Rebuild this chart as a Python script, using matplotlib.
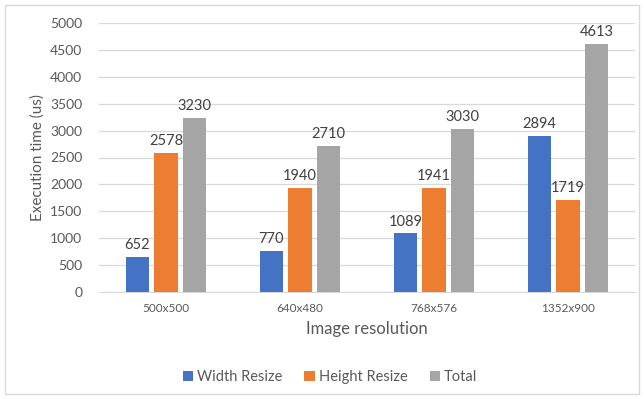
import matplotlib.pyplot as plt
import numpy as np
from matplotlib.patches import Rectangle

plt.rcParams['font.family'] = ['Lato', 'DejaVu Sans']

categories = ['500x500', '640x480', '768x576', '1352x900']
series_names = ['Width Resize', 'Height Resize', 'Total']
width_resize = [652, 770, 1089, 2894]
height_resize = [2578, 1940, 1941, 1719]
total = [3230, 2710, 3030, 4613]
colors = ['#4472C4', '#ED7D31', '#A5A5A5']
text_col = '#595959'

fig = plt.figure(figsize=(6.44, 3.99), dpi=100)
ax = fig.add_axes([99/644, 1 - 292/399, (635-99)/644, (292-23)/399])

x = np.arange(len(categories))
bw = 0.172
step = 0.215
for i, (vals, name, c) in enumerate(zip([width_resize, height_resize, total], series_names, colors)):
    pos = x + (i - 1) * step
    ax.bar(pos, vals, width=bw, color=c, label=name, zorder=3)
    for p, v in zip(pos, vals):
        ax.text(p, v + 90, str(v), ha='center', va='bottom', fontsize=10.5, color='#404040')

ax.set_xlim(-0.5, len(categories) - 0.5)
ax.set_ylim(0, 5000)
ax.set_yticks(range(0, 5001, 500))
ax.set_xticks(x)
ax.set_xticklabels(categories, fontsize=8.5, color=text_col)
ax.tick_params(axis='y', labelsize=10, labelcolor=text_col, length=0, pad=12)
ax.tick_params(axis='x', length=0, pad=8)
ax.grid(axis='y', color='#D9D9D9', linewidth=0.9, zorder=0)
for s in ['top', 'right', 'left']:
    ax.spines[s].set_visible(False)
ax.spines['bottom'].set_color('#D9D9D9')
ax.set_xlabel('Image resolution', fontsize=12, color=text_col, labelpad=5)
ax.set_ylabel('Execution time (us)', fontsize=11, color=text_col, labelpad=4)

fig.legend(loc='center', bbox_to_anchor=(330/644, 1 - 377/399), ncol=3, frameon=False,
           fontsize=10.5, labelcolor=text_col, handlelength=0.7, handleheight=0.7,
           handletextpad=0.3, columnspacing=1.5)

fig.patches.append(Rectangle((5/644, 5/399), 634/644, 389/399, transform=fig.transFigure,
                             fill=False, edgecolor='#D9D9D9', linewidth=1))

fig.savefig('out.png', dpi=100)
